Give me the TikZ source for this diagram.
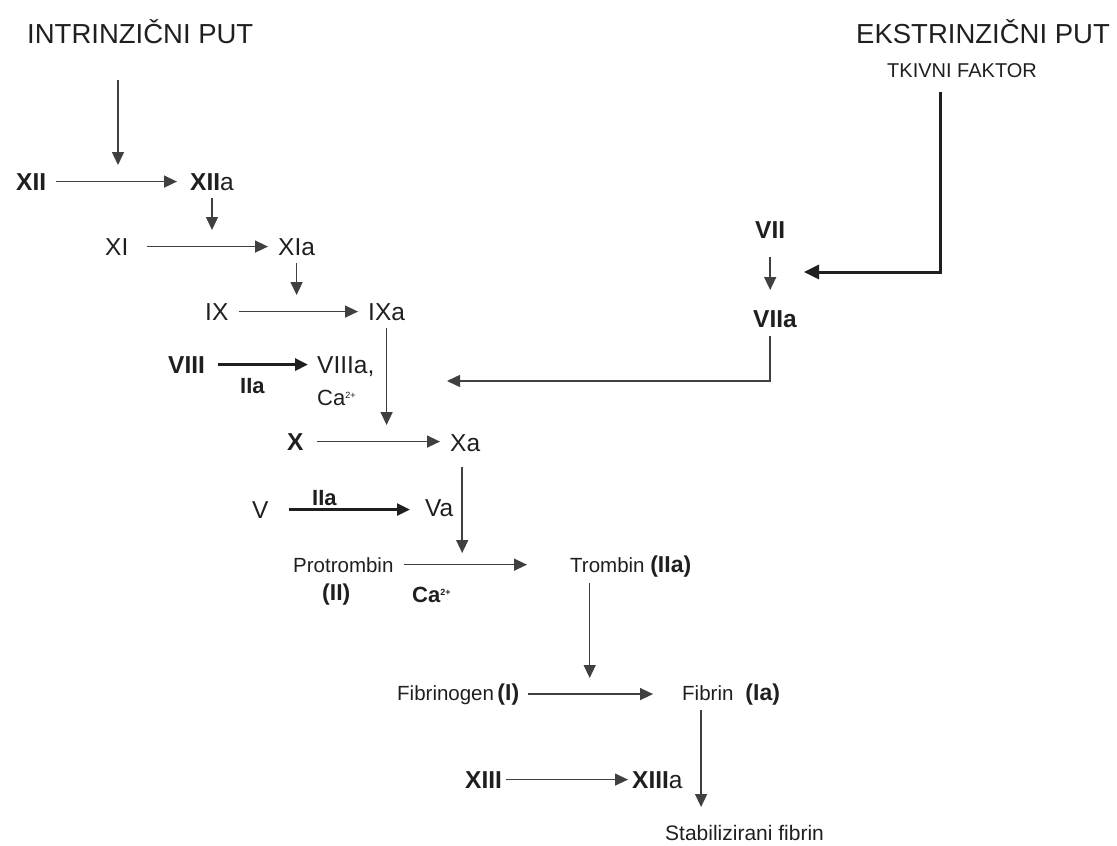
\documentclass[tikz,border=0pt]{standalone}
\usepackage{fontspec}
\setmainfont{Liberation Sans}
\usetikzlibrary{arrows.meta, positioning, calc}
\tikzset{
  cg text/.style={inner sep=0pt, anchor=base west, text=black!88},
  cg head/.style={cg text, font=\fontsize{27.5}{30}\selectfont},
  cg sub/.style={cg text, font=\fontsize{20}{22}\selectfont},
  cg factor/.style={cg text, font=\fontsize{24.5}{27}\selectfont},
  cg bold/.style={cg text, font=\fontsize{24.5}{27}\selectfont\bfseries},
  cg small/.style={cg text, font=\fontsize{22}{24}\selectfont},
  cg name/.style={cg text, font=\fontsize{20.5}{23}\selectfont},
  cg arrow/.style={
    -{Triangle[length=13pt,width=12pt]}, line width=1.5pt, draw=black!75
  },
  cg thick/.style={
    cg arrow, line width=3pt, draw=black!88
  }
}
\newcommand{\cgpar}[1]{{\fontsize{23}{25}\selectfont\bfseries #1}}
\newcommand{\cgion}{\raisebox{7pt}{\fontsize{9}{10}\selectfont 2+}}

\begin{document}
\begin{tikzpicture}[x=1pt, y=-1pt]
  \useasboundingbox (0,0) rectangle (1117,846);

  % headings
  \node (intr) [cg head] at (27,43) {INTRINZIČNI PUT};
  \node (ekstr) [cg head] at (856,43) {EKSTRINZIČNI PUT};
  \node (tf) [cg sub] at (887,77) {TKIVNI FAKTOR};

  % intrinsic cascade
  \coordinate (intop) at (118,80);
  \coordinate (inend) at (118,165);
  \node (fxii) [cg bold] at (16,190) {XII};
  \node (fxiia) [cg factor] at (190,190) {\textbf{XII}a};
  \node (fxi) [cg factor] at (105,255) {XI};
  \node (fxia) [cg factor] at (278,255) {XIa};
  \node (fix) [cg factor] at (205,320) {IX};
  \node (fixa) [cg factor] at (368,320) {IXa};
  \node (fviii) [cg bold] at (168,373) {VIII};
  \node (fviiia) [cg factor] at (317,373) {VIIIa,};
  \node (iiaone) [cg small, font=\fontsize{22}{24}\selectfont\bfseries] at (240,393) {IIa};
  \node (caone) [cg small] at (317,405) {Ca\cgion};
  \node (fx) [cg bold] at (287,450) {X};
  \node (fxa) [cg factor] at (450,451) {Xa};
  \node (fv) [cg factor] at (252,518) {V};
  \node (iiatwo) [cg small, font=\fontsize{22}{24}\selectfont\bfseries] at (312,505) {IIa};
  \node (fva) [cg factor] at (425,516) {Va};

  % extrinsic side
  \node (fvii) [cg bold] at (755,238) {VII};
  \node (fviia) [cg bold] at (753,327) {VIIa};
  \coordinate (extone) at (804,272);
  \coordinate (exttwo) at (447,381);

  % common pathway
  \node (protr) [cg name] at (293,572) {Protrombin};
  \node (protrii) [cg text, font=\fontsize{23}{25}\selectfont\bfseries] at (322,600) {(II)};
  \node (catwo) [cg small, font=\fontsize{22}{24}\selectfont\bfseries] at (412,602) {Ca\cgion};
  \node (trombin) [cg name] at (570,572) {Trombin \cgpar{(IIa)}};
  \node (fibrinogen) [cg name] at (397,700) {Fibrinogen\,\cgpar{(I)}};
  \node (fibrin) [cg name] at (682,700) {Fibrin\hspace{12pt}\cgpar{(Ia)}};
  \node (fxiii) [cg bold] at (465,788) {XIII};
  \node (fxiiia) [cg factor] at (632,788) {\textbf{XIII}a};
  \node (stab) [cg name, font=\fontsize{21}{23}\selectfont] at (665,840) {Stabilizirani fibrin};

  \draw [cg arrow] (intop) -- (inend);
  \draw [cg arrow, shorten <=10pt, shorten >=13pt] (fxii.east) -- (fxii.east -| fxiia.west);
  \draw [cg arrow, shorten <=8pt] (fxiia.base) -- ++(0,40);
  \draw [cg arrow, shorten <=18pt, shorten >=10pt] (fxi.east) -- (fxi.east -| fxia.west);
  \draw [cg arrow, shorten <=8pt] (fxia.base) -- ++(0,40);
  \draw [cg arrow, shorten <=10pt, shorten >=10pt] (fix.east) -- (fix.east -| fixa.west);
  \draw [cg thick, shorten <=13pt, shorten >=9pt] (fviii.east) -- (fviii.east -| fviiia.west);
  \draw [cg arrow, shorten <=8pt] (fixa.base) -- ++(0,105);
  \draw [cg arrow, shorten <=13pt, shorten >=10pt] (fx.east) -- (fx.east -| fxa.west);
  \draw [cg arrow, shorten <=16pt] ([xshift=-3pt]fxa.base) -- ++(0,102);
  \draw [cg thick, line width=2.5pt, shorten <=20pt, shorten >=15pt] (fv.east) -- (fv.east -| fva.west);

  \draw [cg thick, -{Triangle[length=15pt,width=14pt]}, shorten <=15pt] ([xshift=-22pt]tf.base) |- (extone);
  \draw [cg arrow, shorten <=19pt] (fvii.base) -- ++(0,52);
  \draw [cg arrow, shorten <=9pt] ([xshift=-5pt]fviia.base) |- (exttwo);

  \draw [cg arrow, shorten <=10pt, shorten >=43pt] (protr.east) -- (protr.east -| trombin.west);
  \draw [cg arrow, shorten <=11pt] ([xshift=-41pt]trombin.base) -- ++(0,106);
  \draw [cg arrow, shorten <=9pt, shorten >=29pt] (fibrinogen.east) -- (fibrinogen.east -| fibrin.west);
  \draw [cg arrow, shorten <=10pt] ([xshift=-30pt]fibrin.base) -- ++(0,107);
  \draw [cg arrow, line width=1.2pt, shorten <=4pt, shorten >=4pt] (fxiii.east) -- (fxiii.east -| fxiiia.west);
\end{tikzpicture}
\end{document}
